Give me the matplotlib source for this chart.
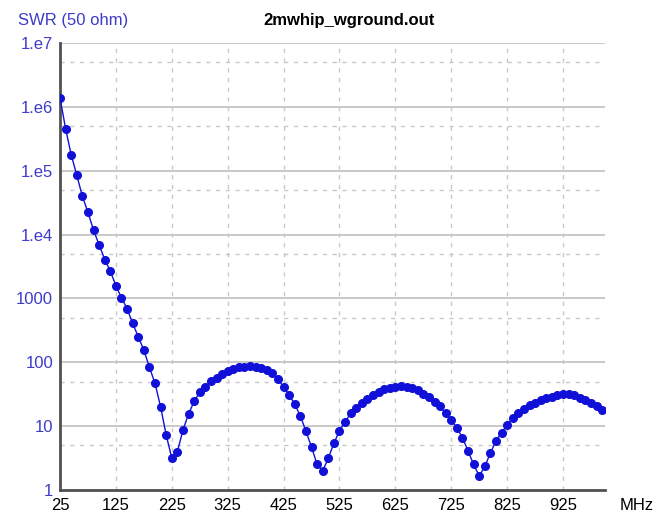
import numpy as np
import matplotlib.pyplot as plt

# sweep frequencies (MHz) and SWR
freqs = [25, 35, 45, 55, 65, 75, 85, 95, 105, 115,
         125, 135, 145, 155, 165, 175, 185, 195, 205, 215,
         225, 235, 245, 255, 265, 275, 285, 295, 305, 315,
         325, 335, 345, 355, 365, 375, 385, 395, 405, 415,
         425, 435, 445, 455, 465, 475, 485, 495, 505, 515,
         525, 535, 545, 555, 565, 575, 585, 595, 605, 615,
         625, 635, 645, 655, 665, 675, 685, 695, 705, 715,
         725, 735, 745, 755, 765, 775, 785, 795, 805, 815,
         825, 835, 845, 855, 865, 875, 885, 895, 905, 915,
         925, 935, 945, 955, 965, 975, 985, 995]
swr = [1380000, 457000, 178000, 85100, 39800, 22400, 11700, 6920, 4070, 2690,
       1580, 1020, 692, 407, 251, 155, 83.2, 46.8, 20.0, 7.24,
       3.16, 3.98, 8.71, 15.5, 24.5, 33.9, 41.7, 50.1, 57.5, 66.1,
       72.4, 79.4, 83.2, 85.1, 87.1, 85.1, 81.3, 75.9, 67.6, 55.0,
       40.7, 30.9, 21.9, 14.5, 8.32, 4.68, 2.51, 2.00, 3.16, 5.37,
       8.51, 11.7, 15.8, 19.1, 22.9, 26.9, 30.9, 34.7, 38.0, 39.8,
       41.7, 42.7, 41.7, 39.8, 37.2, 32.4, 28.2, 24.0, 20.4, 15.8,
       12.6, 9.33, 6.61, 4.07, 2.51, 1.66, 2.34, 3.80, 5.89, 7.94,
       10.5, 13.5, 16.2, 18.6, 21.4, 23.4, 25.7, 27.5, 28.8, 30.2,
       31.6, 32.4, 30.2, 27.5, 25.7, 23.4, 20.9, 17.8]

xticks = [25, 125, 225, 325, 425, 525, 625, 725, 825, 925]
yticks = [1, 10, 100, 1e3, 1e4, 1e5, 1e6, 1e7]
ylabels = ['1', '10', '100', '1000', '1.e4', '1.e5', '1.e6', '1.e7']
half_decades = [5, 50, 500, 5e3, 5e4, 5e5, 5e6]

plt.rcParams['font.family'] = ['Liberation Sans', 'DejaVu Sans']
blue = '#1010d8'
label_blue = '#3c3cc8'

fig = plt.figure(figsize=(6.59, 5.17), dpi=100)
ax = fig.add_axes([60 / 659, 1 - 490 / 517, 545 / 659, 447 / 517])

ax.set_yscale('log')
ax.set_xlim(25, 1000)
ax.set_ylim(1, 1e7)

# grid: solid at decades, dashed at 5x and at x ticks
for y in yticks[1:]:
    ax.axhline(y, color='#c4c4c4', lw=1.3, zorder=1)
for y in half_decades:
    ax.axhline(y, color='#c8c8c8', lw=1, ls=(0, (3, 4)), zorder=1)
for x in xticks[1:]:
    ax.axvline(x, color='#c8c8c8', lw=1, ls=(0, (3, 4)), zorder=1)

ax.plot(freqs, swr, '-o', color=blue, lw=1, ms=5.5, zorder=3)

ax.set_xticks(xticks)
ax.set_xticklabels([str(t) for t in xticks], fontsize=12)
ax.set_yticks(yticks)
ax.set_yticklabels(ylabels, fontsize=12, color=label_blue)
ax.minorticks_off()
ax.tick_params(length=0, pad=5)
ax.tick_params(axis='x', pad=6)

for s in ['top', 'right']:
    ax.spines[s].set_visible(False)
for s in ['left', 'bottom']:
    ax.spines[s].set_color('#505050')
    ax.spines[s].set_linewidth(2)

fig.text(18 / 659, 1 - 20 / 517, 'SWR (50 ohm)', color=label_blue,
         fontsize=12, ha='left', va='center')
fig.text(349 / 659, 1 - 20 / 517, '2mwhip_wground.out', color='black',
         fontsize=12, fontweight='bold', ha='center', va='center')
fig.text(620 / 659, 1 - 506 / 517, 'MHz', color='black', fontsize=12,
         ha='left', va='center')

fig.savefig('out.png', dpi=100)
